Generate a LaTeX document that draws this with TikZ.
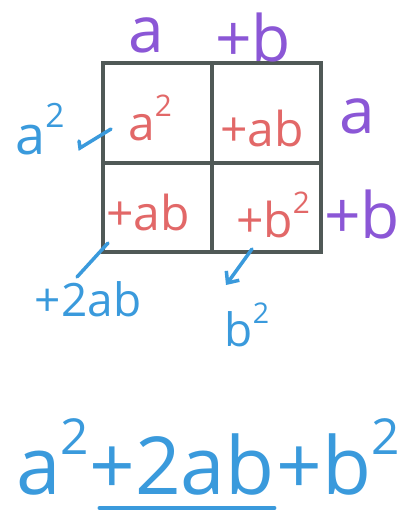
\documentclass[tikz,border=0pt]{standalone}
\usepackage{fontspec}
\setmainfont{Open Sans}
\usepackage{tikz}
\usetikzlibrary{positioning,arrows.meta}
\definecolor{sidePurple}{RGB}{139, 87, 214}
\definecolor{cellRed}{RGB}{226, 104, 104}
\definecolor{noteBlue}{RGB}{58, 154, 220}
\definecolor{gridGray}{RGB}{80, 89, 87}
\newcommand{\squared}{\raisebox{0.5em}{\scalebox{0.62}{2}}}
\tikzset{
  side/.style={text=sidePurple, inner sep=0pt, anchor=base, font=\fontsize{64}{64}\selectfont},
  cell/.style={text=cellRed, inner sep=0pt, anchor=base, font=\fontsize{48}{48}\selectfont},
  note/.style={text=noteBlue, inner sep=0pt, anchor=base, font=\fontsize{46}{46}\selectfont},
  sumtext/.style={text=noteBlue, inner sep=0pt, font=\fontsize{80}{80}\selectfont},
  gridline/.style={draw=gridGray, line width=4pt},
  pointer/.style={draw=noteBlue, line width=3.5pt, line cap=round}
}

\begin{document}
\begin{tikzpicture}[x=1pt, y=-1pt]
        \useasboundingbox (0,0) rectangle (409,512);
        % the square
        \draw[gridline] (103,63) rectangle (321,252);
        \draw[gridline] (212,63) -- (212,252);
        \draw[gridline] (103,163) -- (321,163);
        % sides
        \node[side] (topa) at (146,52) {a};
        \node[side] (topb) at (253,61) {+b};
        \node[side] (righta) at (357,133) {a};
        \node[side] (rightb) at (362,238) {+b};
        % cells
        \node[cell] (aa) at (150,140) {a\squared};
        \node[cell] (ab) at (262,146) {+ab};
        \node[cell] (ba) at (148,230) {+ab};
        \node[cell] (bb) at (273,237) {+b\squared};
        % notes
        \node[note, font=\fontsize{54}{54}\selectfont] (asq) at (40,154) {a\squared};
        \node[note] (twoab) at (88,316) {+2ab};
        \node[note] (bsq) at (247,346) {b\squared};
        \coordinate (aatick) at (111,129);
        \coordinate (batick) at (108,243);
        \coordinate (bbtick) at (252,249);
        \coordinate (twoabtip) at (77,277);
        \draw[pointer] (aatick) -- (80,148) -- (79,141);
        \draw[pointer] (batick) -- (twoabtip);
        \draw[pointer, -{Straight Barb[length=9pt, width=16pt]}] (bbtick) -- (226,285);
        % the sum
        \node[sumtext, anchor=base west] (sqa) at (16,494) {a\squared};
        \node[sumtext, right=0pt of sqa.base east, anchor=base west] (mid) {+2ab};
        \node[sumtext, right=2pt of mid.base east, anchor=base west] (sqb) {+b\squared};
        \draw[pointer] ([xshift=10pt]mid.south west |- 0,508) -- (mid.south east |- 0,508);
      \end{tikzpicture}
\end{document}
